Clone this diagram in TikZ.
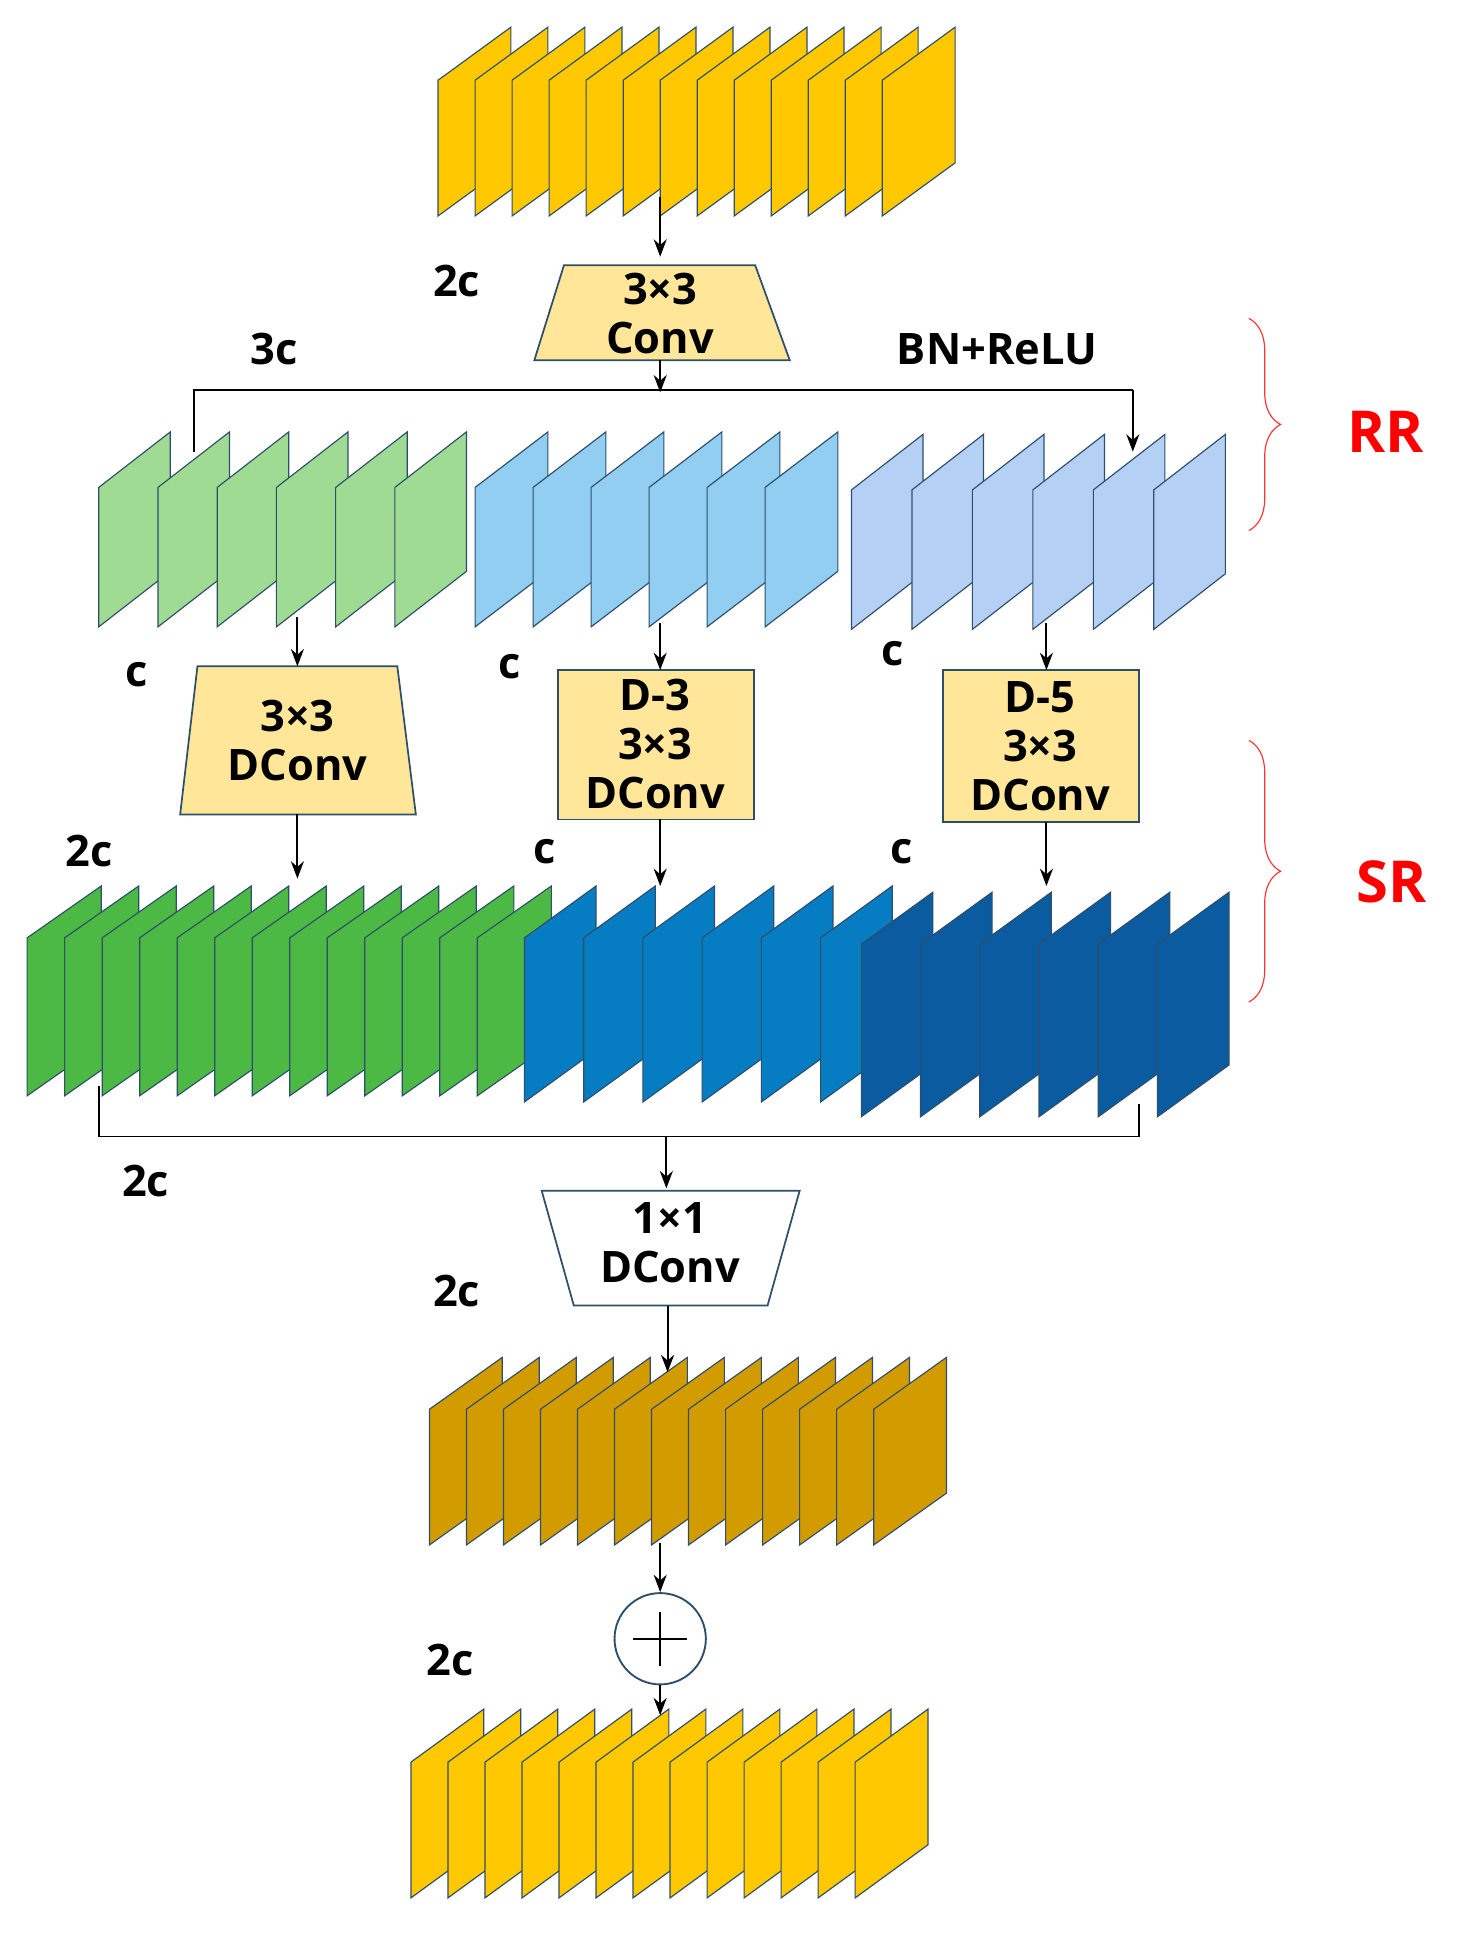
\documentclass[tikz,border=0pt]{standalone}
\usepackage{fontspec}
\setmainfont{Open Sans}
\usetikzlibrary{arrows.meta,decorations.pathreplacing}
\definecolor{yel}{HTML}{FFC800}
\definecolor{lyel}{HTML}{FFE699}
\definecolor{lgreen}{HTML}{A0DB94}
\definecolor{lblue}{HTML}{92CDF2}
\definecolor{lav}{HTML}{B4D0F4}
\definecolor{dgreen}{HTML}{4CB944}
\definecolor{mblue}{HTML}{067CC2}
\definecolor{dblue}{HTML}{0A5BA0}
\definecolor{brown}{HTML}{D29B00}
\definecolor{edge}{HTML}{2E4F6A}
\newcommand\slabs[8]{%
  \foreach \i in {1,...,#3}{%
    \pgfmathsetmacro\xx{#1+(\i-1)*#4}
    \draw[edge,line width=0.8pt,fill=#8] (\xx,#2+#7+#6) -- (\xx,#2+#7) -- (\xx+#5,#2) -- (\xx+#5,#2+#6) -- cycle;
  }}
\begin{document}
\begin{tikzpicture}[x=0.03cm,y=-0.03cm,
  lbl/.style={font=\fontsize{30}{34}\selectfont\bfseries,inner sep=0pt},
  box/.style={draw=edge,line width=1.2pt,fill=lyel},
  arr/.style={-{Stealth[length=12pt,width=9pt]},line width=1.3pt},
  ln/.style={line width=1.3pt},
  br/.style={red!80,line width=0.8pt,decorate,decoration={brace,amplitude=22pt}}]
\useasboundingbox (0,0) rectangle (1188,1577);
% top stack
\slabs{355}{22}{13}{30}{59}{110}{43}{yel}
\coordinate (topout) at (535,160);
% conv trapezoid
\draw[box] (457,215) -- (612,215) -- (640,292) -- (433,292) -- cycle;
\node[lbl,align=center] (conv) at (535,254) {3×3\\Conv};
\coordinate (convtop) at (535,208);
\coordinate (convbot) at (535,292);
\draw[arr] (topout) -- (convtop);
\node[lbl] (l2c) at (370,228) {2c};
\node[lbl] (l3c) at (222,283) {3c};
\node[lbl] (bn) at (808,283) {BN+ReLU};
% row 2
\slabs{80}{350}{6}{48}{58}{113}{45}{lgreen}
\slabs{385}{350}{6}{47}{59}{113}{45}{lblue}
\slabs{690}{352}{6}{49}{58}{113}{45}{lav}
\coordinate (split) at (535,318);
\coordinate (sl) at (157,316);
\coordinate (sr) at (918,316);
\coordinate (slb) at (157,366);
\coordinate (srb) at (918,366);
\draw[arr] (convbot) -- (split);
\draw[ln] (slb) -- (sl) -- (sr);
\draw[arr] (sr) -- (srb);
% second-level boxes
\draw[box] (160,540) -- (322,540) -- (337,660) -- (146,660) -- cycle;
\node[lbl,align=center] (dc1) at (241,600) {3×3\\DConv};
\draw[box] (452,543) rectangle (611,664);
\node[lbl,align=center] (dc2) at (531,603) {D-3\\3×3\\DConv};
\draw[box] (764,543) rectangle (923,666);
\node[lbl,align=center] (dc3) at (843,605) {D-5\\3×3\\DConv};
\coordinate (a1) at (241,500); \coordinate (a1b) at (241,540);
\coordinate (a2) at (535,505); \coordinate (a2b) at (535,543);
\coordinate (a3) at (848,505); \coordinate (a3b) at (848,543);
\draw[arr] (a1) -- (a1b);
\draw[arr] (a2) -- (a2b);
\draw[arr] (a3) -- (a3b);
\node[lbl] (c1) at (111,547) {c};
\node[lbl] (c2) at (413,540) {c};
\node[lbl] (c3) at (723,530) {c};
% row 3
\slabs{22}{718}{13}{30.4}{60}{128}{42}{dgreen}
\slabs{425}{718}{6}{48}{58}{133}{42}{mblue}
\slabs{698}{723}{6}{48}{58}{140}{42}{dblue}
\coordinate (b1) at (241,660); \coordinate (b1b) at (241,712);
\coordinate (b2) at (535,664); \coordinate (b2b) at (535,718);
\coordinate (b3) at (848,666); \coordinate (b3b) at (848,718);
\draw[arr] (b1) -- (b1b);
\draw[arr] (b2) -- (b2b);
\draw[arr] (b3) -- (b3b);
\node[lbl] (d1) at (72,690) {2c};
\node[lbl] (d2) at (441,690) {c};
\node[lbl] (d3) at (731,690) {c};
% merge line
\coordinate (ml) at (80,880); \coordinate (mlb) at (80,921);
\coordinate (mr) at (923,895); \coordinate (mrb) at (923,921);
\coordinate (mm) at (540,921); \coordinate (mmb) at (540,963);
\draw[ln] (ml) -- (mlb) -- (mrb) -- (mr);
\draw[arr] (mm) -- (mmb);
\node[lbl] (e1) at (118,957) {2c};
% 1x1 DConv
\draw[draw=edge,line width=1.2pt,fill=white] (439,965) -- (648,965) -- (622,1058) -- (465,1058) -- cycle;
\node[lbl,align=center] (dc4) at (543,1007) {1×1\\DConv};
\node[lbl] (e2) at (370,1046) {2c};
\coordinate (f1) at (541,1058); \coordinate (f1b) at (541,1112);
% brown stack
\slabs{348}{1100}{13}{30}{59}{110}{42}{brown}
\draw[arr] (f1) -- (f1b);
% plus
\node[draw=edge,line width=1.3pt,circle,minimum size=74*0.03cm,inner sep=0pt] (plus) at (535,1328) {};
\draw[line width=1.5pt] (513,1328) -- (557,1328) (535,1306) -- (535,1350);
\coordinate (g1) at (535,1250);
\draw[arr] (g1) -- (plus.north);
\node[lbl] (e3) at (365,1345) {2c};
% bottom stack
\slabs{333}{1385}{13}{30}{59}{110}{43}{yel}
\coordinate (g2) at (535,1390);
\draw[arr] (plus.south) -- (g2);
% braces
\draw[br] (1012,258) -- (1012,430);
\node[lbl,red,font=\fontsize{40}{44}\selectfont\bfseries] (rr) at (1123,350) {RR};
\draw[br] (1012,600) -- (1012,812);
\node[lbl,red,font=\fontsize{40}{44}\selectfont\bfseries] (sr2) at (1128,715) {SR};
\end{tikzpicture}
\end{document}
